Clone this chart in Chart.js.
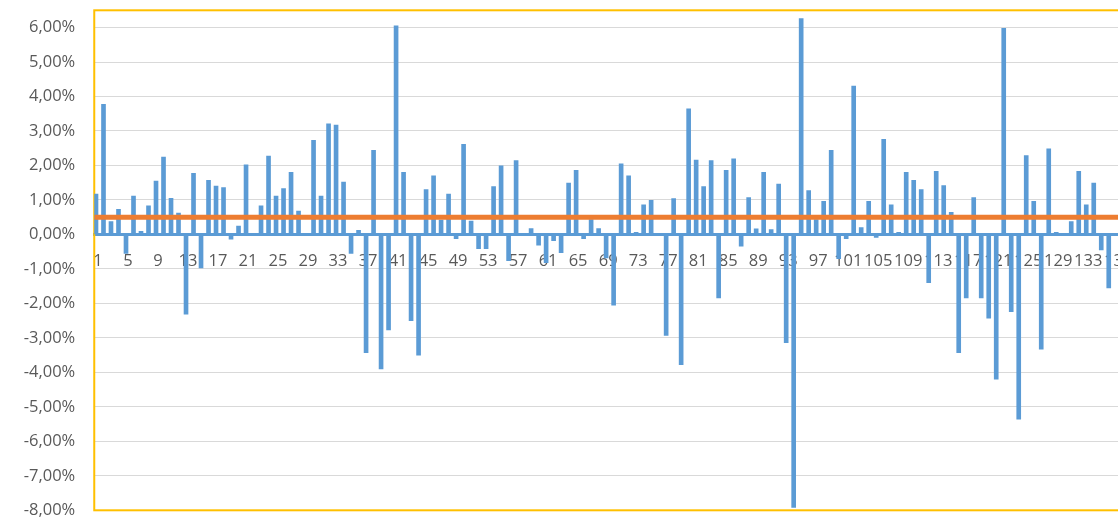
<!DOCTYPE html>
<html>
<head>
<meta charset="utf-8">
<script src="https://cdn.jsdelivr.net/npm/chart.js@4/dist/chart.umd.min.js"></script>
<style>
  html, body { margin: 0; padding: 0; background: #ffffff; overflow: hidden; }
  #wrap { position: relative; width: 1122px; height: 519px; }
</style>
</head>
<body>
<div id="wrap"><canvas id="chart"></canvas></div>
<script>
// Period numbers shown on the category axis (1 … 137)
const periods = Array.from({ length: 137 }, (_, i) => String(i + 1));

// Period returns, in percent
const returnsPct = [
   1.17,  3.77,  0.37,  0.73, -0.55,  1.11,  0.09,  0.83,  1.55,  2.24,
   1.05,  0.62, -2.31,  1.77, -0.97,  1.57,  1.40,  1.36, -0.14,  0.24,
   2.02,  0.00,  0.83,  2.27,  1.11,  1.33,  1.80,  0.68,  0.00,  2.73,
   1.11,  3.21,  3.17,  1.52, -0.55,  0.12, -3.43,  2.44, -3.90, -2.77,
   6.05,  1.80, -2.50, -3.50,  1.30,  1.70,  0.42,  1.17, -0.12,  2.61,
   0.39, -0.41, -0.41,  1.39,  1.99, -0.76,  2.14,  0.00,  0.17, -0.31,
  -0.82, -0.18, -0.53,  1.49,  1.86, -0.12,  0.43,  0.17, -0.68, -2.05,
   2.05,  1.70,  0.06,  0.86,  0.99,  0.00, -2.93,  1.04, -3.78,  3.64,
   2.16,  1.39,  2.14, -1.84,  1.86,  2.19, -0.34,  1.07,  0.16,  1.80,
   0.14,  1.46, -3.14, -7.92,  6.26,  1.27,  0.43,  0.96,  2.44, -0.70,
  -0.12,  4.30,  0.20,  0.96, -0.09,  2.76,  0.86,  0.06,  1.80,  1.57,
   1.30, -1.40,  1.83,  1.42,  0.64, -3.43, -1.84,  1.07, -1.84, -2.43,
  -4.20,  5.98, -2.24, -5.36,  2.29,  0.96, -3.33,  2.48,  0.06,  0.00,
   0.37,  1.83,  0.86,  1.49, -0.45, -1.55,  null
];

// Average return level, in percent
const averagePct = 0.50;

// Value axis range and step, in percent
const yMin = -8;
const yMax = 6.5;
const yStep = 1;

const labelFont = { family: "'Open Sans', 'Liberation Sans', sans-serif", size: 16.5, lineHeight: 1 };
const labelColor = '#595959';

// Gold frame around the plot area
const plotFrame = {
  id: 'plotFrame',
  beforeDatasetsDraw(chart) {
    const { ctx, chartArea: a } = chart;
    ctx.save();
    ctx.strokeStyle = '#ffc000';
    ctx.lineWidth = 2;
    ctx.strokeRect(a.left, a.top, a.right - a.left, a.bottom - a.top);
    ctx.restore();
  }
};

new Chart(document.getElementById('chart'), {
  data: {
    labels: periods,
    datasets: [
      {
        type: 'bar',
        data: returnsPct,
        backgroundColor: '#5b9bd5',
        borderWidth: 0,
        barThickness: 4,
        order: 2
      },
      {
        type: 'line',
        xAxisID: 'xLine',
        data: [{ x: 0, y: averagePct }, { x: periods.length, y: averagePct }],
        borderColor: '#ed7d31',
        borderWidth: 5,
        pointRadius: 0,
        fill: false,
        order: 1
      }
    ]
  },
  options: {
    responsive: true,
    maintainAspectRatio: false,
    animation: false,
    layout: { padding: { top: 10.3, bottom: 8.7, left: 0, right: 0 } },
    plugins: { legend: { display: false }, tooltip: { enabled: false } },
    scales: {
      x: {
        type: 'category',
        position: { y: 0 },
        grid: { display: false, drawTicks: false },
        border: { display: true, color: '#5b9bd5', width: 3 },
        ticks: {
          autoSkip: false,
          maxRotation: 0,
          minRotation: 0,
          padding: 19,
          font: labelFont,
          color: labelColor,
          callback: (v, i) => (i % 4 === 0 ? periods[i] : '')
        },
        afterFit: (s) => {
          s.height = 0;
          s.paddingLeft = 0; s.paddingRight = 0; s.paddingTop = 0; s.paddingBottom = 0;
        }
      },
      xLine: {
        type: 'linear',
        display: false,
        min: 0,
        max: periods.length,
        offset: false
      },
      y: {
        min: yMin,
        max: yMax,
        grid: { color: '#d9d9d9', lineWidth: 1, drawTicks: false },
        border: { display: false },
        ticks: {
          stepSize: yStep,
          includeBounds: false,
          padding: 19,
          font: labelFont,
          color: labelColor,
          callback: (v) => (Number.isInteger(Math.round(v * 1000) / 1000) ? v.toFixed(2).replace('.', ',') + '%' : '')
        },
        afterFit: (s) => {
          s.width = 94.25;
          s.paddingTop = 0; s.paddingBottom = 0;
        }
      }
    }
  },
  plugins: [plotFrame]
});
</script>
</body>
</html>
